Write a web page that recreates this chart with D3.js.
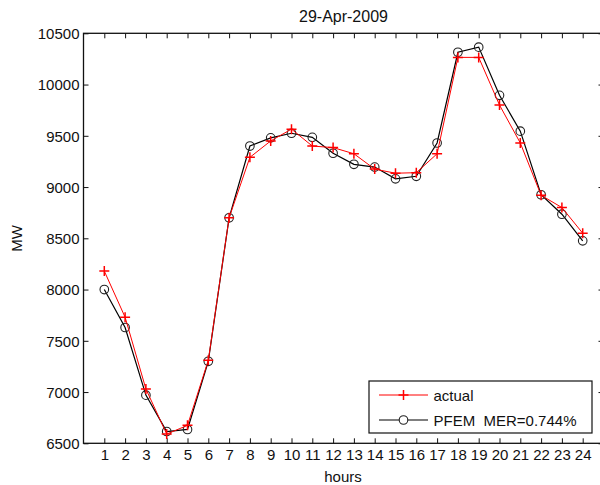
<!DOCTYPE html>
<html>
<head>
<meta charset="utf-8">
<script src="https://cdn.jsdelivr.net/npm/d3@7"></script>
<style>
  html, body { margin: 0; padding: 0; background: #fff; }
  svg { display: block; font-family: "Liberation Sans", Arial, Helvetica, sans-serif; }
</style>
</head>
<body>
<svg id="chart" width="600" height="485"></svg>
<script>
// Hourly load for 29-Apr-2009: measured vs. PFEM forecast (MW)
const hours = [1, 2, 3, 4, 5, 6, 7, 8, 9, 10, 11, 12, 13, 14, 15, 16, 17, 18, 19, 20, 21, 22, 23, 24];
const actual = [8180, 7730, 7030, 6590, 6675, 7310, 8700, 9290, 9450, 9565, 9400, 9385, 9325, 9175, 9135, 9140, 9325, 10265, 10265, 9800, 9430, 8920, 8800, 8550];
const pfem = [8000, 7630, 6970, 6615, 6635, 7300, 8700, 9400, 9480, 9525, 9485, 9330, 9222, 9195, 9080, 9105, 9430, 10315, 10365, 9895, 9545, 8925, 8735, 8475];
const yTicks = [6500, 7000, 7500, 8000, 8500, 9000, 9500, 10000, 10500];
const title = "29-Apr-2009";
const xLabel = "hours";
const yLabel = "MW";
const legendLabels = ["actual", "PFEM  MER=0.744%"];

const svg = d3.select("#chart");
const pLeft = 83.5, pRight = 603.5, pTop = 33.3, pBottom = 443.3;
const x = d3.scaleLinear().domain([0, 25]).range([pLeft, pRight]);
const y = d3.scaleLinear().domain([6500, 10500]).range([pBottom, pTop]);
const fs = 15;
const ink = "#111";

// tick marks point inward on all four sides
const tickLen = 5;
const xAxisB = d3.axisBottom(x).tickValues(hours).tickSize(-tickLen).tickPadding(9).tickFormat(d3.format("d"));
const xAxisT = d3.axisTop(x).tickValues(hours).tickSize(-tickLen).tickFormat("");
const yAxisL = d3.axisLeft(y).tickValues(yTicks).tickSize(-tickLen).tickPadding(4).tickFormat(d3.format("d"));
const yAxisR = d3.axisRight(y).tickValues(yTicks).tickSize(-tickLen).tickFormat("");

function styleAxis(g) {
  g.select(".domain").remove();
  g.selectAll(".tick line").attr("stroke", ink).attr("stroke-width", 1);
  g.selectAll(".tick text").attr("fill", ink).attr("font-size", fs).attr("font-family", null);
}

svg.append("g").attr("transform", `translate(0,${pBottom})`).call(xAxisB).call(styleAxis)
  .selectAll(".tick text").attr("dy", "0.5em");
svg.append("g").attr("transform", `translate(0,${pTop})`).call(xAxisT).call(styleAxis);
svg.append("g").attr("transform", `translate(${pLeft},0)`).call(yAxisL).call(styleAxis)
  .selectAll(".tick text").attr("dy", "0.36em");
svg.append("g").attr("transform", `translate(${pRight},0)`).call(yAxisR).call(styleAxis);

// axes box
svg.append("rect")
  .attr("x", pLeft).attr("y", pTop)
  .attr("width", pRight - pLeft).attr("height", pBottom - pTop)
  .attr("fill", "none").attr("stroke", ink).attr("stroke-width", 1.3);

const line = d3.line().x((d, i) => x(hours[i])).y(d => y(d));

// forecast series: black line with open circles
const gP = svg.append("g");
gP.append("path").datum(pfem).attr("d", line)
  .attr("fill", "none").attr("stroke", "#000").attr("stroke-width", 1.2);
gP.selectAll("circle").data(pfem).join("circle")
  .attr("cx", (d, i) => x(hours[i])).attr("cy", d => y(d)).attr("r", 4.3)
  .attr("fill", "none").attr("stroke", "#222").attr("stroke-width", 1.1);

// measured series: red line with plus markers
const plus = 5;
const gA = svg.append("g");
gA.append("path").datum(actual).attr("d", line)
  .attr("fill", "none").attr("stroke", "#ff0000").attr("stroke-width", 1);
gA.selectAll("path.mk").data(actual).join("path").attr("class", "mk")
  .attr("d", (d, i) => {
    const cx = x(hours[i]), cy = y(d);
    return `M${cx - plus},${cy}H${cx + plus}M${cx},${cy - plus}V${cy + plus}`;
  })
  .attr("stroke", "#ff0000").attr("stroke-width", 1.5);

// title and axis labels
svg.append("text").attr("x", (pLeft + pRight) / 2).attr("y", 21.5)
  .attr("text-anchor", "middle").attr("font-size", 16).attr("fill", ink).text(title);
svg.append("text").attr("x", 343).attr("y", 482)
  .attr("text-anchor", "middle").attr("font-size", fs).attr("fill", ink).text(xLabel);
svg.append("text").attr("transform", `translate(22,${(pTop + pBottom) / 2}) rotate(-90)`)
  .attr("text-anchor", "middle").attr("font-size", fs).attr("fill", ink).text(yLabel);

// legend
const lg = svg.append("g");
lg.append("rect").attr("x", 369).attr("y", 381).attr("width", 223).attr("height", 52)
  .attr("fill", "#fff").attr("stroke", ink).attr("stroke-width", 1.2);
const rows = [
  { y: 395, color: "#ff0000", marker: "plus" },
  { y: 420, color: "#000", marker: "circle" }
];
rows.forEach((r, k) => {
  lg.append("line").attr("x1", 379).attr("x2", 428).attr("y1", r.y).attr("y2", r.y)
    .attr("stroke", r.color).attr("stroke-width", r.marker === "plus" ? 1 : 1.2);
  if (r.marker === "plus") {
    lg.append("path").attr("d", `M${403.5 - plus},${r.y}H${403.5 + plus}M403.5,${r.y - plus}V${r.y + plus}`)
      .attr("stroke", r.color).attr("stroke-width", 1.5);
  } else {
    lg.append("circle").attr("cx", 403.5).attr("cy", r.y).attr("r", 4.3)
      .attr("fill", "#fff").attr("stroke", "#222").attr("stroke-width", 1.1);
  }
  lg.append("text").attr("x", 433.5).attr("y", r.y + 5.5).attr("font-size", fs).attr("fill", ink)
    .style("white-space", "pre")
    .text(legendLabels[k]);
});
</script>
</body>
</html>
